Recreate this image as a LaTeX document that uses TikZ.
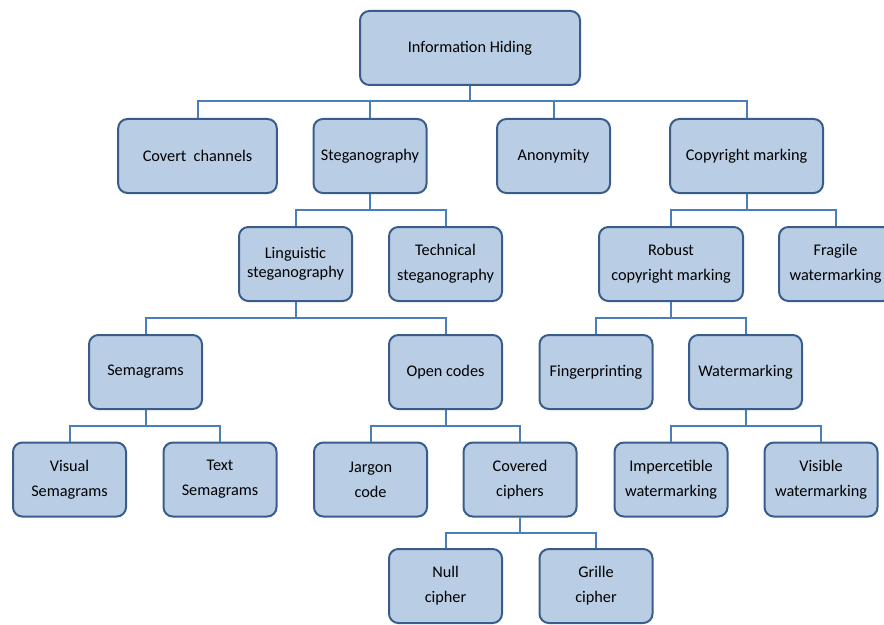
\documentclass[tikz,border=0pt]{standalone}
\usepackage{fontspec}
\setmainfont{Carlito}
\usetikzlibrary{positioning}
\definecolor{boxfill}{HTML}{B9CDE5}
\definecolor{boxline}{HTML}{385D8A}
\definecolor{linkline}{HTML}{4A7EBB}
\tikzset{
    taxonomy/.style={x=0.75pt, y=-0.75pt, font=\fontsize{12.2}{18.75}\selectfont},
    topic/.style={draw=boxline, fill=boxfill, line width=1.5pt, rounded corners=7pt,
        minimum width=84.75pt, minimum height=55.5pt, align=center, inner sep=2pt},
    link/.style={draw=linkline, line width=1.5pt},
    % drop from a parent to its bus line, then over to the child
    busdrop/.style={to path={-- ++(0,15.5) -| (\tikztotarget)}},
}

\begin{document}
\begin{tikzpicture}[taxonomy]
    \useasboundingbox (0,0) rectangle (884,624);

    \node[topic, minimum width=165pt]   (ih)       at (470,48)      {Information Hiding};

    \node[topic, minimum width=119pt]   (covert)   at (197.5,156)   {Covert~ channels};
    \node[topic]                        (steg)     at (370,156)     {Steganography};
    \node[topic]                        (anon)     at (553.5,156)   {Anonymity};
    \node[topic, minimum width=114.75pt] (copy)    at (746.5,156)   {Copyright marking};

    \node[topic]                        (ling)     at (295.5,264)   {Linguistic\\[-4.5pt]steganography};
    \node[topic]                        (tech)     at (445.5,264)   {Technical\\steganography};
    \node[topic, minimum width=108pt]   (robust)   at (671,264)     {Robust\\copyright marking};
    \node[topic]                        (fragile)  at (835.5,264)   {Fragile\\watermarking};

    \node[topic]                        (sema)     at (145.5,372)   {Semagrams};
    \node[topic]                        (open)     at (445.5,372)   {Open codes};
    \node[topic]                        (finger)   at (596,372)     {Fingerprinting};
    \node[topic]                        (water)    at (745.5,372)   {Watermarking};

    \node[topic]                        (visual)   at (69.5,479.5)  {Visual\\Semagrams};
    \node[topic]                        (textsema) at (220,479.5)   {Text\\Semagrams};
    \node[topic]                        (jargon)   at (370.5,479.5) {Jargon\\code};
    \node[topic]                        (covered)  at (520,479.5)   {Covered\\ciphers};
    \node[topic]                        (imperc)   at (671,479.5)   {Impercetible\\watermarking};
    \node[topic]                        (visible)  at (821,479.5)   {Visible\\watermarking};

    \node[topic]                        (null)     at (445.5,586)   {Null\\cipher};
    \node[topic]                        (grille)   at (596,586)     {Grille\\cipher};

    % tree links
    \foreach \kid in {covert, steg, anon, copy}
        \draw[link] (ih.south) to[busdrop] (\kid.north);
    \foreach \kid in {ling, tech}
        \draw[link] (steg.south) to[busdrop] (\kid.north);
    \foreach \kid in {robust, fragile}
        \draw[link] (copy.south) to[busdrop] (\kid.north);
    \foreach \kid in {sema, open}
        \draw[link] (ling.south) to[busdrop] (\kid.north);
    \foreach \kid in {finger, water}
        \draw[link] (robust.south) to[busdrop] (\kid.north);
    \foreach \kid in {visual, textsema}
        \draw[link] (sema.south) to[busdrop] (\kid.north);
    \foreach \kid in {jargon, covered}
        \draw[link] (open.south) to[busdrop] (\kid.north);
    \foreach \kid in {imperc, visible}
        \draw[link] (water.south) to[busdrop] (\kid.north);
    \foreach \kid in {null, grille}
        \draw[link] (covered.south) to[busdrop] (\kid.north);
\end{tikzpicture}
\end{document}
